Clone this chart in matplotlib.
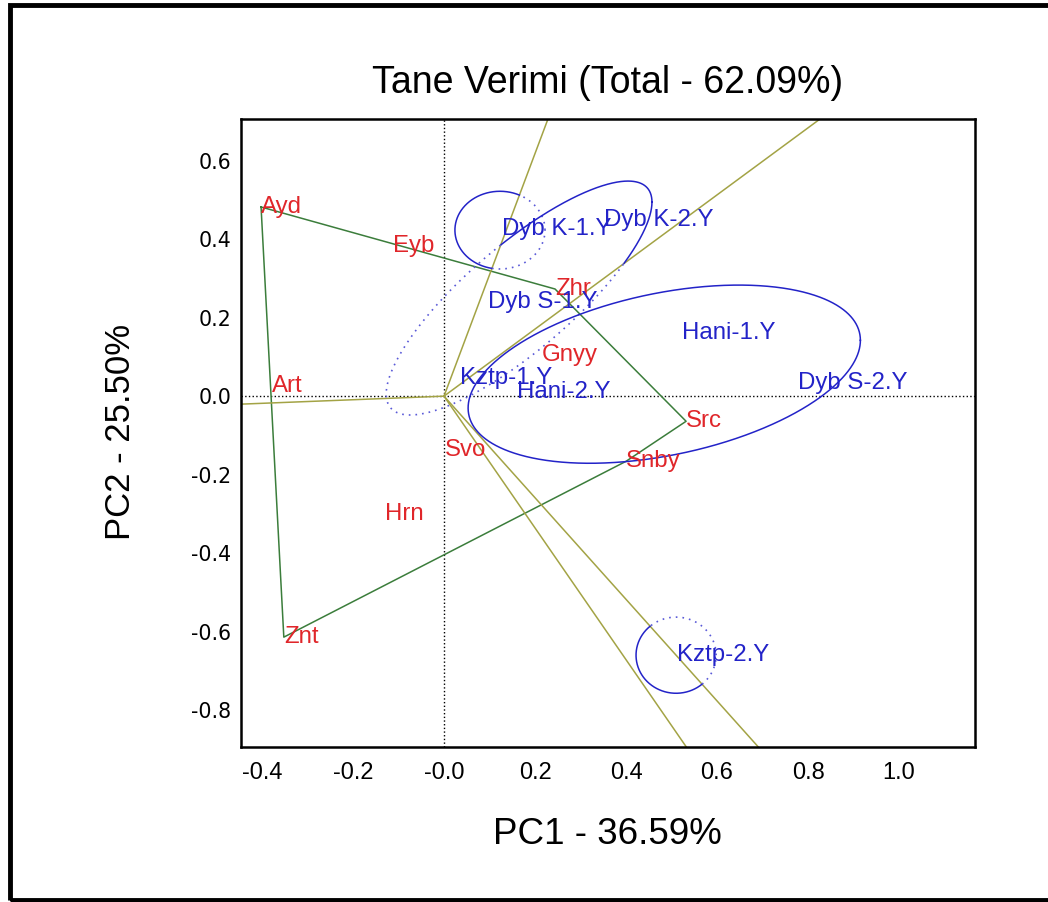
import numpy as np
import matplotlib.pyplot as plt
from matplotlib.patches import Rectangle

# genotype scores (PC1, PC2)
gen_names = ['Ayd', 'Zhr', 'Src', 'Snby', 'Znt', 'Eyb', 'Gnyy', 'Art', 'Svo', 'Hrn']
gen_pc1 = [-0.402, 0.244, 0.532, 0.400, -0.352, -0.112, 0.215, -0.378, 0.002, -0.130]
gen_pc2 = [0.482, 0.273, -0.064, -0.166, -0.614, 0.382, 0.104, 0.025, -0.138, -0.301]
hull_names = ['Ayd', 'Zhr', 'Src', 'Snby', 'Znt']

# environment scores
env_names = ['Dyb K-1.Y', 'Dyb K-2.Y', 'Dyb S-1.Y', 'Hani-1.Y', 'Kztp-1.Y',
             'Hani-2.Y', 'Dyb S-2.Y', 'Kztp-2.Y']
env_pc1 = [0.127, 0.352, 0.097, 0.523, 0.035, 0.160, 0.778, 0.512]
env_pc2 = [0.425, 0.448, 0.239, 0.161, 0.046, 0.010, 0.033, -0.660]

# environment group ellipses: centre, half extents, correlation, winning genotype
ell_cx = [0.123, 0.165, 0.484, 0.510]
ell_cy = [0.423, 0.250, 0.056, -0.660]
ell_rx = [0.099, 0.292, 0.431, 0.088]
ell_ry = [0.099, 0.298, 0.227, 0.097]
ell_rho = [0.0, 0.82, 0.38, 0.0]
ell_win = ['Ayd', 'Zhr', 'Src', 'Snby']

xticks = [-0.4, -0.2, 0.0, 0.2, 0.4, 0.6, 0.8, 1.0]
xtick_labels = ['-0.4', '-0.2', '-0.0', '0.2', '0.4', '0.6', '0.8', '1.0']
yticks = [0.6, 0.4, 0.2, 0.0, -0.2, -0.4, -0.6, -0.8]
ytick_labels = ['0.6', '0.4', '0.2', '0.0', '-0.2', '-0.4', '-0.6', '-0.8']

red = '#e0262a'
blue = '#2323c8'
green = '#3b7d3b'
olive = '#a3a345'

gen = dict(zip(gen_names, zip(gen_pc1, gen_pc2)))
hull = np.array([gen[n] for n in hull_names])

def winner(px, py):
    # which hull genotype has the largest projection
    proj = np.outer(px, hull[:, 0]) + np.outer(py, hull[:, 1])
    return np.argmax(proj, axis=1)

fig = plt.figure(figsize=(10.48, 9.02), dpi=100)
ax = fig.add_axes([0.2300, 0.1718, 0.7004, 0.6962])

ax.axhline(0, color='black', ls=':', lw=1.0, zorder=1)
ax.axvline(0, color='black', ls=':', lw=1.0, zorder=1)

# polygon
closed = np.vstack([hull, hull[:1]])
ax.plot(closed[:, 0], closed[:, 1], color=green, lw=1.1, zorder=2)

# rays perpendicular to polygon sides
for i in range(len(hull)):
    a, b = hull[i], hull[(i + 1) % len(hull)]
    d = b - a
    n = np.array([d[1], -d[0]])
    if np.dot(n, a) < 0:
        n = -n
    n = n / np.linalg.norm(n) * 4
    ax.plot([0, n[0]], [0, n[1]], color=olive, lw=1.1, zorder=2)

# ellipses: solid inside own sector, dotted outside
t = np.linspace(0, 2 * np.pi, 1441)
for cx, cy, rx, ry, rho, w in zip(ell_cx, ell_cy, ell_rx, ell_ry, ell_rho, ell_win):
    S = np.array([[rx ** 2, rho * rx * ry], [rho * rx * ry, ry ** 2]])
    L = np.linalg.cholesky(S)
    pts = L @ np.vstack([np.cos(t), np.sin(t)])
    ex, ey = cx + pts[0], cy + pts[1]
    inside = winner(ex, ey) == hull_names.index(w)
    ax.plot(ex, np.where(inside, ey, np.nan), color=blue, lw=1.1, zorder=2)
    ax.plot(ex, np.where(inside, np.nan, ey), color='#5a5ad8', lw=1.2,
            ls=(0, (1, 3)), zorder=2)

lab_font = dict(family='Liberation Sans', fontsize=17.3, ha='left', va='center', zorder=4)
for n, x, y in zip(gen_names, gen_pc1, gen_pc2):
    ax.text(x, y, n, color=red, **lab_font)
for n, x, y in zip(env_names, env_pc1, env_pc2):
    ax.text(x, y, n, color=blue, **lab_font)

ax.set_xlim(-0.446, 1.167)
ax.set_ylim(-0.894, 0.706)
ax.set_xticks(xticks)
ax.set_xticklabels(xtick_labels, family='Liberation Sans', fontsize=17)
ax.set_yticks(yticks)
ax.set_yticklabels(ytick_labels, family='DejaVu Sans', fontsize=14.8)
ax.tick_params(axis='both', length=0)
ax.tick_params(axis='x', pad=11)
ax.tick_params(axis='y', pad=7)
for s in ax.spines.values():
    s.set_linewidth(1.8)

fig.text(608 / 1048, 1 - 83 / 902, 'Tane Verimi (Total - 62.09%)', family='Liberation Sans',
         fontsize=27, ha='center', va='center')
fig.text(607 / 1048, 1 - 835 / 902, 'PC1 - 36.59%', family='Liberation Sans',
         fontsize=26.5, ha='center', va='center')
fig.text(120 / 1048, 1 - 432 / 902, 'PC2 - 25.50%', family='Liberation Sans',
         fontsize=25, ha='center', va='center', rotation=90)

# outer frame
fig.patches.append(Rectangle((10 / 1048, 1 - 900 / 902), 1.05, 895 / 902,
                             transform=fig.transFigure, fill=False,
                             edgecolor='black', lw=3.5))

fig.savefig('out.png', dpi=100)
